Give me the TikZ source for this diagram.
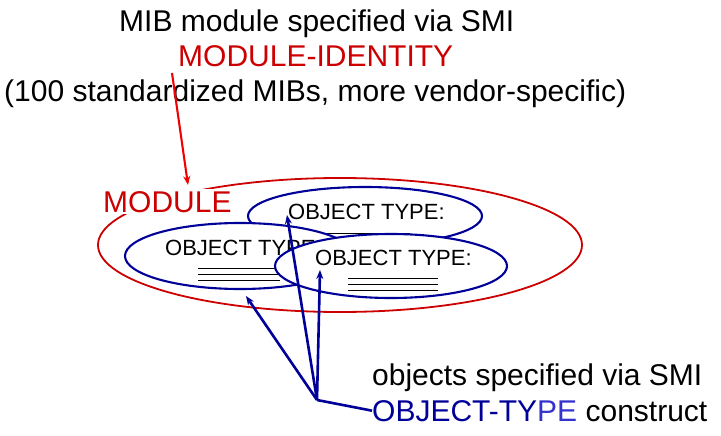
\documentclass[tikz,border=0pt]{standalone}
\usepackage{fontspec}
\setmainfont{Liberation Sans}
\usetikzlibrary{arrows.meta}
\definecolor{modred}{RGB}{204,0,0}
\definecolor{arrred}{RGB}{240,0,0}
\definecolor{objblue}{RGB}{0,0,153}
\definecolor{lightblue}{RGB}{51,51,204}
\begin{document}
\begin{tikzpicture}[x=1pt,y=-1pt,
    big/.style={font=\fontsize{30}{36}\selectfont, inner sep=0pt, anchor=base west},
    small/.style={font=\fontsize{22}{26}\selectfont, inner sep=0pt, anchor=base west},
    oval/.style={draw=objblue, line width=2.1pt, fill=white},
    rule/.style={line width=1pt},
    pointer/.style={objblue, line width=2.6pt, -{Stealth[length=9pt,width=7pt]}}]
    \useasboundingbox (0,0) rectangle (721,436);
    % Draw the texts on top
    \node[big] (mib) at (119,32) {MIB module specified via SMI};
    \node[big, text=modred] (modid) at (178,67) {MODULE-IDENTITY};
    \node[big] (count) at (4,102) {(100 standardized MIBs, more vendor-specific)};
    % Draw the module
    \draw[modred, line width=1.8pt] (340,245) ellipse (242pt and 67pt);
    \node[big, text=modred, fill=white, inner sep=2pt, anchor=base west] (module) at (101,212) {MODULE};
    % Draw the back object
    \draw[oval] (365,216) ellipse (117pt and 29pt);
    \node[small] (objA) at (288,219) {OBJECT TYPE:};
    \draw[rule] (318,233) -- (410,233);
    % Draw the left object
    \draw[oval] (240,256) ellipse (115pt and 33pt);
    \node[small] (objB) at (165,255) {OBJECT TYPE:};
    \foreach \y in {268,274,280}
      \draw[rule] (198,\y) -- (280,\y);
    % Draw the front object
    \draw[oval] (391,266) ellipse (116pt and 32pt);
    \node[small] (objC) at (315,265) {OBJECT TYPE:};
    \foreach \y in {278,284,290}
      \draw[rule] (348,\y) -- (438,\y);
    % Draw the texts at the bottom
    \node[big] (smi) at (372,385) {objects specified via SMI};
    \node[big] (construct) at (372,421) {{\color{objblue}OBJECT-TY}{\color{lightblue}PE} construct};
    % Draw the red pointer
    \coordinate (redstart) at (172,73);
    \coordinate (redtip) at (188,185);
    \draw[arrred, line width=2.1pt, -{Stealth[length=9pt,width=7pt]}] (redstart) -- (redtip);
    % Draw the blue pointers
    \coordinate (hub) at (317,400);
    \coordinate (tipB) at (246,296);
    \coordinate (tipA) at (287,215);
    \coordinate (tipC) at (320,270);
    \draw[pointer] (hub) -- (tipB);
    \draw[pointer] (hub) -- (tipA);
    \draw[pointer] (hub) -- (tipC);
    \draw[objblue, line width=2.6pt] (hub) -- (construct.west);
\end{tikzpicture}
\end{document}
